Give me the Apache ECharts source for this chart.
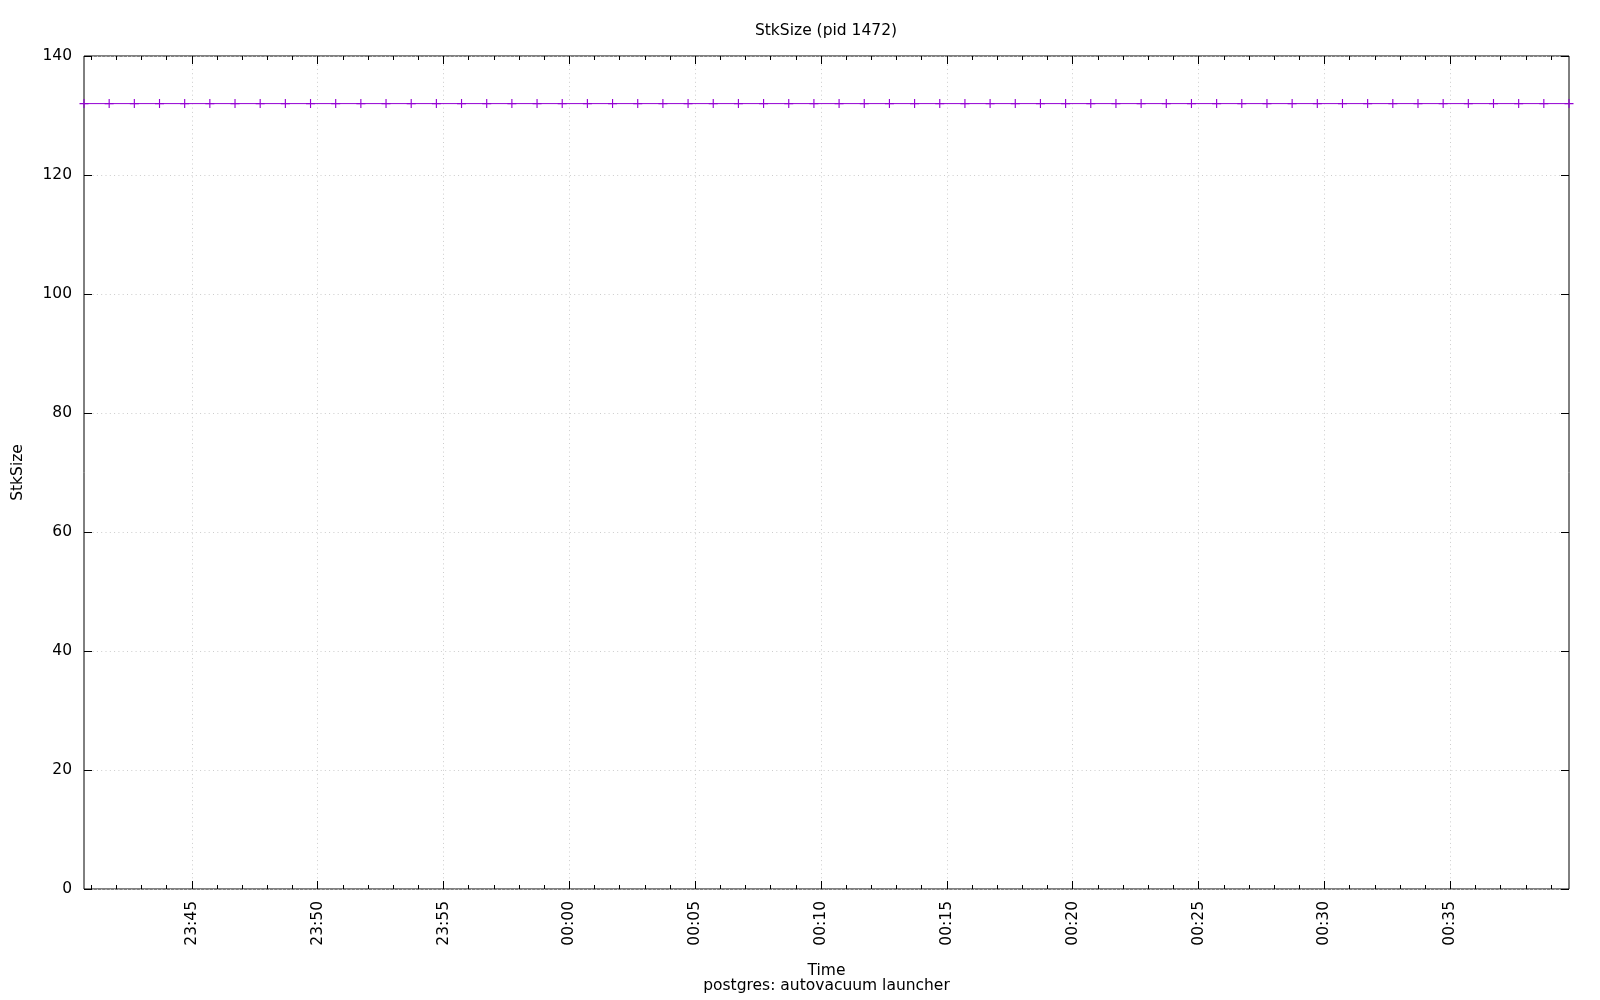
<!DOCTYPE html>
<html>
<head>
<meta charset="utf-8">
<script src="https://cdn.jsdelivr.net/npm/echarts@6/dist/echarts.min.js"></script>
<style>html,body{margin:0;padding:0;background:#fff}#c{width:1600px;height:1000px}</style>
</head>
<body>
<div id="c"></div>
<script>
// Sample times (one per minute) and StkSize values
const times = [
  "23:40:43","23:41:43","23:42:43","23:43:43","23:44:43","23:45:43","23:46:43","23:47:43","23:48:43","23:49:43",
  "23:50:43","23:51:43","23:52:43","23:53:43","23:54:43","23:55:43","23:56:43","23:57:43","23:58:43","23:59:43",
  "00:00:43","00:01:43","00:02:43","00:03:43","00:04:43","00:05:43","00:06:43","00:07:43","00:08:43","00:09:43",
  "00:10:43","00:11:43","00:12:43","00:13:43","00:14:43","00:15:43","00:16:43","00:17:43","00:18:43","00:19:43",
  "00:20:43","00:21:43","00:22:43","00:23:43","00:24:43","00:25:43","00:26:43","00:27:43","00:28:43","00:29:43",
  "00:30:43","00:31:43","00:32:43","00:33:43","00:34:43","00:35:43","00:36:43","00:37:43","00:38:43","00:39:43"
];
const stkSize = [
  132,132,132,132,132,132,132,132,132,132,
  132,132,132,132,132,132,132,132,132,132,
  132,132,132,132,132,132,132,132,132,132,
  132,132,132,132,132,132,132,132,132,132,
  132,132,132,132,132,132,132,132,132,132,
  132,132,132,132,132,132,132,132,132,132
];
const majorTickLabels = ["23:45","23:50","23:55","00:00","00:05","00:10","00:15","00:20","00:25","00:30","00:35"];
const minorTickLabels = [
  "23:41","23:42","23:43","23:44","23:46","23:47","23:48","23:49","23:51","23:52","23:53","23:54",
  "23:56","23:57","23:58","23:59","00:01","00:02","00:03","00:04","00:06","00:07","00:08","00:09",
  "00:11","00:12","00:13","00:14","00:16","00:17","00:18","00:19","00:21","00:22","00:23","00:24",
  "00:26","00:27","00:28","00:29","00:31","00:32","00:33","00:34","00:36","00:37","00:38","00:39"
];
const yTicks = [0,20,40,60,80,100,120,140];

// convert clock string to minutes on a continuous scale (times after midnight continue past 1440)
function toMin(s){
  const p = s.split(':').map(Number);
  let m = p[0]*60 + p[1] + (p[2]||0)/60;
  if (p[0] < 12) m += 1440;
  return m;
}
function fmt(v){
  let m = Math.round(v) % 1440;
  const h = Math.floor(m/60), mm = m%60;
  return String(h).padStart(2,'0') + ':' + String(mm).padStart(2,'0');
}
const xs = times.map(toMin);
const xMin = xs[0], xMax = xs[xs.length-1];
const majors = majorTickLabels.map(toMin);
const minors = minorTickLabels.map(toMin);
const data = xs.map((x,i)=>[x, stkSize[i]]);

const FONT = 'DejaVu Sans';
const FS = 15.5;
const gridLine = {show:true, lineStyle:{color:'#cccccc', width:1, type:[1,3.3]}};

function xAx(pos, vals, len, opts){
  return Object.assign({
    type:'value', position:pos, min:xMin, max:xMax,
    axisLine:{show:false},
    axisTick:{show:true, inside:true, length:len, customValues:vals, lineStyle:{color:'#000', width:1}},
    axisLabel:{show:false},
    splitLine:{show:false}
  }, opts||{});
}

const chart = echarts.init(document.getElementById('c'), null, {renderer:'canvas'});
chart.setOption({
  animation:false,
  backgroundColor:'#fff',
  textStyle:{fontFamily:FONT},
  title:{
    text:'StkSize (pid 1472)', left:821, top:18, textAlign:'center',
    textStyle:{fontFamily:FONT, fontSize:FS, fontWeight:'normal', color:'#000'}
  },
  grid:{left:84, right:31, top:56, bottom:111, show:true, borderColor:'#000', borderWidth:1, backgroundColor:'transparent'},
  xAxis:[
    xAx('bottom', majors, 8, {
      name:'Time\npostgres: autovacuum launcher', nameLocation:'middle', nameGap:74,
      nameTextStyle:{fontFamily:FONT, fontSize:FS, color:'#000', lineHeight:15},
      axisLabel:{show:true, customValues:majors, rotate:90, margin:12, fontFamily:FONT, fontSize:FS, color:'#000', formatter:fmt},
      splitLine:gridLine
    }),
    xAx('bottom', minors, 4),
    xAx('top', majors, 8),
    xAx('top', minors, 4)
  ],
  yAxis:[
    {
      type:'value', position:'left', min:0, max:140, interval:20,
      name:'StkSize', nameLocation:'middle', nameGap:58, nameRotate:90,
      nameTextStyle:{fontFamily:FONT, fontSize:FS, color:'#000'},
      axisLine:{show:false},
      axisTick:{show:true, inside:true, length:8, lineStyle:{color:'#000'}},
      axisLabel:{show:true, margin:12, fontFamily:FONT, fontSize:FS, color:'#000', customValues:yTicks},
      splitLine:gridLine
    },
    {
      type:'value', position:'right', min:0, max:140, interval:20,
      axisLine:{show:false},
      axisTick:{show:true, inside:true, length:8, lineStyle:{color:'#000'}},
      axisLabel:{show:false},
      splitLine:{show:false}
    }
  ],
  series:[{
    type:'line', xAxisIndex:0, yAxisIndex:0, data:data, clip:false,
    symbol:'path://M-0.5,-4 H0.5 V4 H-0.5 Z M-4,-0.5 H4 V0.5 H-4 Z',
    symbolSize:[9,9], showSymbol:true,
    lineStyle:{color:'#9400D3', width:1},
    itemStyle:{color:'#9400D3'},
    emphasis:{disabled:true}
  }]
});
</script>
</body>
</html>
